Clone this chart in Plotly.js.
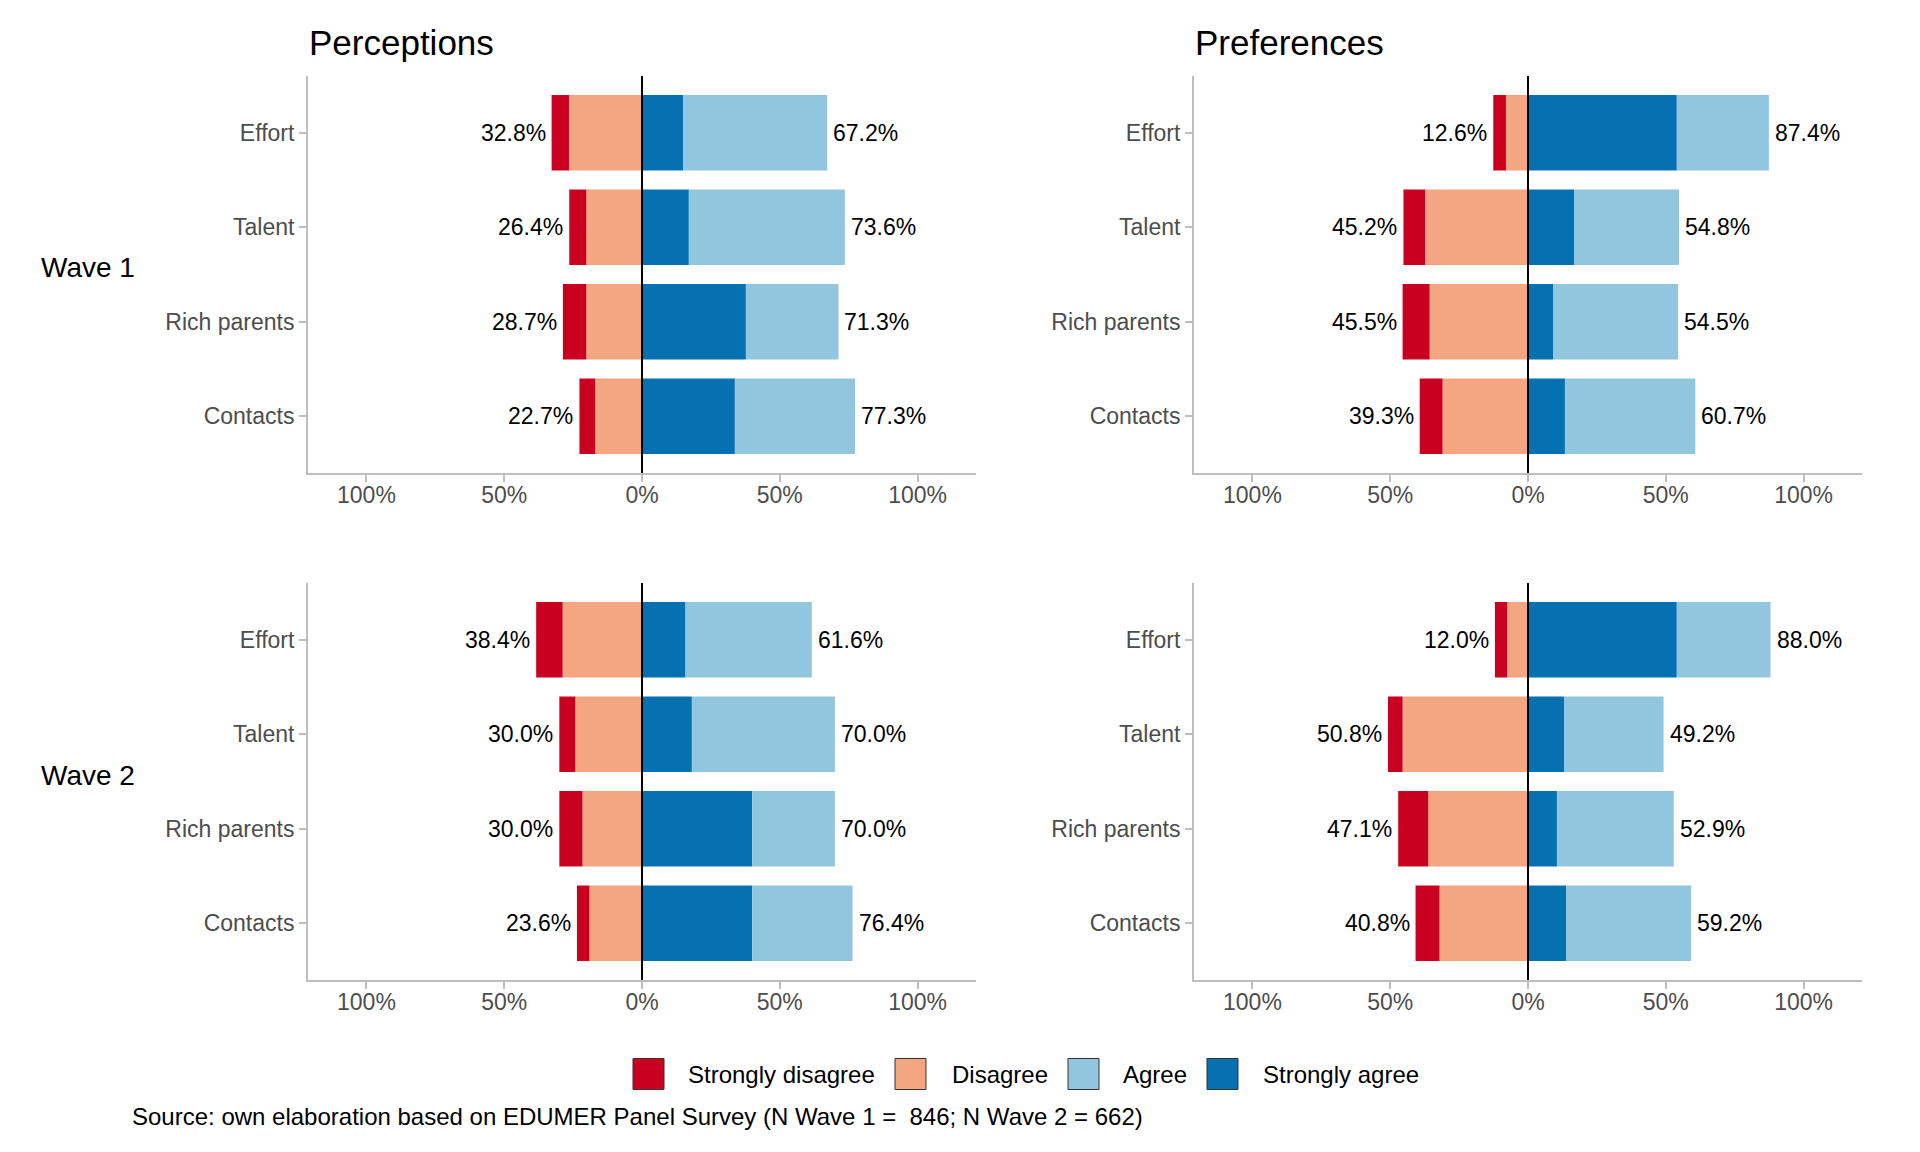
<!DOCTYPE html>
<html>
<head>
<meta charset="utf-8">
<script src="https://cdn.plot.ly/plotly-3.0.1.min.js"></script>
<style>
  html, body { margin: 0; padding: 0; background: #ffffff; }
  #chart { width: 1920px; height: 1152px; }
</style>
</head>
<body>
<div id="chart"></div>
<script>
// ---------------- DATA ----------------
const categories = ['Effort', 'Talent', 'Rich parents', 'Contacts'];
const responseLabels = ['Strongly disagree', 'Disagree', 'Agree', 'Strongly agree'];
const responseColors = ['#CA0020', '#F4A582', '#92C5DE', '#0571B0'];
const panelTitles = ['Perceptions', 'Preferences'];
const waveLabels = ['Wave 1', 'Wave 2'];
const tickVals = [-100, -50, 0, 50, 100];
const tickLabels = ['100%', '50%', '0%', '50%', '100%'];
const sourceText = 'Source: own elaboration based on EDUMER Panel Survey (N Wave 1 =\u00A0 846; N Wave 2 = 662)';

// Perceptions, Wave 1
const percW1_stronglyDisagree = [6.3, 6.2, 8.5, 5.7];
const percW1_disagree         = [26.5, 20.2, 20.2, 17.0];
const percW1_agree            = [52.2, 56.6, 33.6, 43.6];
const percW1_stronglyAgree    = [15.0, 17.0, 37.7, 33.7];
// Preferences, Wave 1
const prefW1_stronglyDisagree = [4.6, 7.9, 9.8, 8.3];
const prefW1_disagree         = [8.0, 37.3, 35.7, 31.0];
const prefW1_agree            = [33.4, 38.1, 45.3, 47.3];
const prefW1_stronglyAgree    = [54.0, 16.7, 9.2, 13.4];
// Perceptions, Wave 2
const percW2_stronglyDisagree = [9.6, 5.8, 8.4, 4.5];
const percW2_disagree         = [28.8, 24.2, 21.6, 19.1];
const percW2_agree            = [45.8, 51.9, 30.0, 36.4];
const percW2_stronglyAgree    = [15.8, 18.1, 40.0, 40.0];
// Preferences, Wave 2
const prefW2_stronglyDisagree = [4.4, 5.3, 10.9, 8.7];
const prefW2_disagree         = [7.6, 45.5, 36.2, 32.1];
const prefW2_agree            = [34.0, 36.0, 42.4, 45.4];
const prefW2_stronglyAgree    = [54.0, 13.2, 10.5, 13.8];

// ---------------- LAYOUT HELPERS ----------------
const W = 1920, H = 1152;
const fx = v => v / W;
const fy = v => 1 - v / H;
const FONT = 'Liberation Sans, Arial, Helvetica, sans-serif';
const AXIS_GREY = '#BEBEBE';
const TICK_TEXT = '#4D4D4D';

const panels = [
  { sd: percW1_stronglyDisagree, d: percW1_disagree, a: percW1_agree, sa: percW1_stronglyAgree, xa: 'x',  ya: 'y'  },
  { sd: prefW1_stronglyDisagree, d: prefW1_disagree, a: prefW1_agree, sa: prefW1_stronglyAgree, xa: 'x2', ya: 'y2' },
  { sd: percW2_stronglyDisagree, d: percW2_disagree, a: percW2_agree, sa: percW2_stronglyAgree, xa: 'x3', ya: 'y3' },
  { sd: prefW2_stronglyDisagree, d: prefW2_disagree, a: prefW2_agree, sa: prefW2_stronglyAgree, xa: 'x4', ya: 'y4' }
];

const traces = [];
const annotations = [];
const shapes = [];

panels.forEach(p => {
  // negative side stacks from zero outward (Disagree then Strongly disagree)
  const series = [
    { vals: p.d.map(v => -v), name: responseLabels[1], color: responseColors[1], raw: p.d },
    { vals: p.sd.map(v => -v), name: responseLabels[0], color: responseColors[0], raw: p.sd },
    { vals: p.sa, name: responseLabels[3], color: responseColors[3], raw: p.sa },
    { vals: p.a, name: responseLabels[2], color: responseColors[2], raw: p.a }
  ];
  series.forEach(s => {
    traces.push({
      type: 'bar', orientation: 'h',
      x: s.vals, y: categories,
      name: s.name, customdata: s.raw,
      marker: { color: s.color, line: { width: 0 } },
      xaxis: p.xa, yaxis: p.ya,
      showlegend: false,
      hovertemplate: '%{y}: %{customdata:.1f}%<extra>' + s.name + '</extra>'
    });
  });
  categories.forEach((c, i) => {
    const neg = p.sd[i] + p.d[i];
    const pos = p.a[i] + p.sa[i];
    annotations.push({
      xref: p.xa, yref: p.ya, x: -neg, y: c,
      text: neg.toFixed(1) + '%', showarrow: false,
      xanchor: 'right', yanchor: 'middle', xshift: -4,
      font: { family: FONT, size: 23, color: '#000000' }
    });
    annotations.push({
      xref: p.xa, yref: p.ya, x: pos, y: c,
      text: pos.toFixed(1) + '%', showarrow: false,
      xanchor: 'left', yanchor: 'middle', xshift: 4,
      font: { family: FONT, size: 23, color: '#000000' }
    });
  });
  shapes.push({
    type: 'line', xref: p.xa, yref: p.ya + ' domain',
    x0: 0, x1: 0, y0: 0, y1: 1,
    line: { color: '#000000', width: 2 }, layer: 'above'
  });
});

// panel titles
[[307, panelTitles[0]], [1193, panelTitles[1]]].forEach(([x, t]) => {
  annotations.push({
    xref: 'paper', yref: 'paper', x: fx(x), y: fy(42),
    text: t, showarrow: false, xanchor: 'left', yanchor: 'middle',
    font: { family: FONT, size: 35, color: '#000000' }
  });
});
// wave labels
[[268, waveLabels[0]], [775, waveLabels[1]]].forEach(([y, t]) => {
  annotations.push({
    xref: 'paper', yref: 'paper', x: fx(39), y: fy(y),
    text: t, showarrow: false, xanchor: 'left', yanchor: 'middle',
    font: { family: FONT, size: 28, color: '#000000' }
  });
});

// legend (manual, to match the large square keys)
const legendBoxX = [633, 895, 1068, 1207];
const legendTextX = [686, 950, 1121, 1261];
const legendY = 1074, legendBox = 31;
responseLabels.forEach((lab, i) => {
  shapes.push({
    type: 'rect', xref: 'paper', yref: 'paper',
    x0: fx(legendBoxX[i]), x1: fx(legendBoxX[i] + legendBox),
    y0: fy(legendY + legendBox / 2), y1: fy(legendY - legendBox / 2),
    fillcolor: responseColors[i], line: { color: '#333333', width: 1 }
  });
  annotations.push({
    xref: 'paper', yref: 'paper', x: fx(legendTextX[i]), y: fy(legendY),
    text: lab, showarrow: false, xanchor: 'left', yanchor: 'middle',
    font: { family: FONT, size: 24, color: '#000000' }
  });
});

// source caption
annotations.push({
  xref: 'paper', yref: 'paper', x: fx(130), y: fy(1116),
  text: sourceText, showarrow: false, xanchor: 'left', yanchor: 'middle',
  font: { family: FONT, size: 24, color: '#000000' }
});

function xAxis(domain, anchor) {
  return {
    domain: domain, anchor: anchor, range: [-121.2, 121.2],
    tickmode: 'array', tickvals: tickVals, ticktext: tickLabels,
    showgrid: false, zeroline: false,
    showline: true, linecolor: AXIS_GREY, linewidth: 2,
    ticks: 'outside', ticklen: 7, tickwidth: 1.5, tickcolor: AXIS_GREY,
    ticklabelstandoff: -7,
    tickfont: { family: FONT, size: 23, color: TICK_TEXT },
    fixedrange: true
  };
}
function yAxis(domain, anchor) {
  return {
    domain: domain, anchor: anchor, type: 'category',
    categoryorder: 'array', categoryarray: categories,
    range: [3.6, -0.6],
    showgrid: false, zeroline: false,
    showline: true, linecolor: AXIS_GREY, linewidth: 2,
    ticks: 'outside', ticklen: 7, tickwidth: 1.5, tickcolor: AXIS_GREY,
    tickfont: { family: FONT, size: 23, color: TICK_TEXT },
    fixedrange: true
  };
}

const xLeft = [fx(308), fx(976)];
const xRight = [fx(1194), fx(1862)];
const yTop = [fy(473), fy(76)];
const yBottom = [fy(980), fy(583)];

const layout = {
  width: W, height: H,
  margin: { l: 0, r: 0, t: 0, b: 0 },
  paper_bgcolor: '#ffffff', plot_bgcolor: '#ffffff',
  barmode: 'relative', bargap: 0.2,
  showlegend: false,
  font: { family: FONT },
  xaxis: xAxis(xLeft, 'y'),   yaxis: yAxis(yTop, 'x'),
  xaxis2: xAxis(xRight, 'y2'), yaxis2: yAxis(yTop, 'x2'),
  xaxis3: xAxis(xLeft, 'y3'), yaxis3: yAxis(yBottom, 'x3'),
  xaxis4: xAxis(xRight, 'y4'), yaxis4: yAxis(yBottom, 'x4'),
  annotations: annotations,
  shapes: shapes
};

Plotly.newPlot('chart', traces, layout, { displayModeBar: false, responsive: false });
</script>
</body>
</html>
